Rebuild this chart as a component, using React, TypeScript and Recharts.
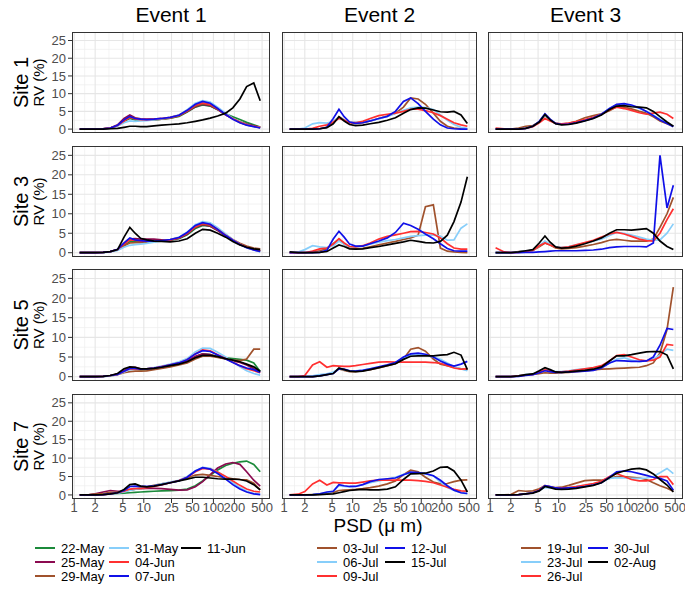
import React from 'react';
import { LineChart, Line, XAxis, YAxis, CartesianGrid } from 'recharts';

// ---------- data ----------
const SIZES = [1.2, 1.6, 2, 2.6, 3.3, 4.2, 5.2, 6.3, 7.5, 9, 11, 14, 18, 24, 32, 42, 55, 70, 90, 115, 150, 190, 240, 300, 380, 470];
const X_TICKS = [1, 2, 5, 10, 25, 50, 100, 200, 500];
const X_MINOR = [1.414, 3.162, 7.071, 15.81, 35.36, 70.71, 141.4, 316.2];
const Y_TICKS = [0, 5, 10, 15, 20, 25];
const Y_MINOR = [2.5, 7.5, 12.5, 17.5, 22.5];

const EVENT_TITLES = ['Event 1', 'Event 2', 'Event 3'];
const SITE_LABELS = ['Site 1', 'Site 3', 'Site 5', 'Site 7'];

const EVENT1_DATES = ['22-May', '25-May', '29-May', '31-May', '04-Jun', '07-Jun', '11-Jun'];
const EVENT2_DATES = ['03-Jul', '06-Jul', '09-Jul', '12-Jul', '15-Jul'];
const EVENT3_DATES = ['19-Jul', '23-Jul', '26-Jul', '30-Jul', '02-Aug'];

const EVENT1_COLORS = ['#1B8A3A', '#8B0A50', '#A0522D', '#87CEFA', '#FF3030', '#1010E8', '#000000'];
const EVENT2_COLORS = ['#A0522D', '#87CEFA', '#FF3030', '#1010E8', '#000000'];
const EVENT3_COLORS = ['#A0522D', '#87CEFA', '#FF3030', '#1010E8', '#000000'];

// Site 1
const SITE1_EVENT1 = [
  [0, 0, 0, 0.1, 0.3, 1, 2.2, 3, 2.6, 2.5, 2.5, 2.6, 2.8, 3.1, 3.6, 4.8, 6.2, 6.8, 6.5, 5.5, 4.3, 3.5, 2.7, 1.9, 1.2, 0.6],
  [0, 0, 0, 0.1, 0.3, 1.2, 3, 4, 3.2, 2.9, 2.8, 2.8, 2.9, 3.2, 3.8, 5, 6.3, 7, 6.6, 5.5, 4, 2.9, 2, 1.4, 0.9, 0.5],
  [0, 0, 0, 0.1, 0.3, 1, 2.5, 3.5, 3, 2.7, 2.6, 2.6, 2.8, 3.1, 3.7, 5, 6.5, 7.2, 6.8, 5.6, 4.1, 3, 2, 1.3, 0.8, 0.5],
  [0, 0, 0, 0, 0.2, 0.8, 1.8, 2.3, 2.2, 2.3, 2.4, 2.6, 2.9, 3.3, 4, 5.5, 7.3, 8, 7.6, 6.2, 4.5, 3, 1.9, 1.2, 0.7, 0.4],
  [0, 0, 0, 0.1, 0.3, 1, 2.3, 3.3, 2.9, 2.7, 2.7, 2.8, 3, 3.3, 3.9, 5.2, 6.8, 7.4, 7, 5.7, 4.1, 2.9, 1.9, 1.2, 0.8, 0.4],
  [0, 0, 0, 0.1, 0.3, 1.1, 2.6, 3.6, 3, 2.8, 2.7, 2.8, 3, 3.3, 3.9, 5.3, 7, 7.8, 7.3, 5.8, 4.1, 2.8, 1.8, 1.1, 0.7, 0.3],
  [0, 0, 0, 0, 0.1, 0.2, 0.5, 0.8, 0.8, 0.7, 0.7, 0.9, 1.1, 1.3, 1.5, 1.8, 2.2, 2.6, 3.1, 3.7, 4.5, 6, 8.5, 12, 13, 8],
];
const SITE1_EVENT2 = [
  [0, 0, 0, 0, 0.1, 0.5, 2, 3.5, 2.6, 1.8, 1.6, 1.8, 2.3, 3, 3.7, 4.5, 6.2, 8.8, 8.5, 7, 4.5, 2.2, 0.8, 0.3, 0.1, 0],
  [0, 0, 0.3, 1.5, 1.8, 1.7, 2.2, 3.3, 2.5, 2, 2, 2.1, 2.4, 2.9, 3.6, 4.4, 5.3, 6, 6.2, 6.1, 5.5, 4, 2.5, 1.3, 0.5, 0.2],
  [0, 0, 0, 0.2, 0.8, 1.2, 2, 3, 2.5, 1.8, 1.8, 2.2, 3, 3.8, 4.2, 4.5, 5, 5.6, 5.6, 5.2, 4.6, 3.8, 2.8, 1.8, 1.2, 0.8],
  [0, 0, 0, 0, 0.1, 0.5, 3, 5.6, 3.5, 2, 1.6, 1.8, 2.3, 3, 3.6, 5, 7.8, 8.8, 7.2, 5, 2.8, 1.2, 0.3, 0.1, 0, 0],
  [0, 0, 0, 0, 0.1, 0.4, 1.5, 3.5, 2.3, 1.3, 1, 1.1, 1.5, 1.9, 2.5, 3.2, 4.5, 5.5, 6, 5.9, 5.4, 4.9, 4.8, 5, 4, 1.6],
];
const SITE1_EVENT3 = [
  [0, 0, 0, 0.3, 0.8, 1, 2, 3.8, 2.5, 1.6, 1.4, 1.6, 2.2, 3.2, 3.8, 4.3, 5.2, 6.3, 6.2, 5.7, 5, 4.5, 3.5, 2.3, 1.5, 0.8],
  [0, 0, 0, 0, 0.2, 0.8, 2, 4, 2.5, 1.6, 1.4, 1.5, 1.9, 2.5, 3.2, 4.2, 5.8, 6.8, 7, 6.6, 5.8, 5, 4, 2.8, 1.8, 0.8],
  [0.3, 0.1, 0, 0, 0.2, 0.7, 1.8, 3, 2.3, 1.6, 1.5, 1.7, 2.1, 2.7, 3.3, 4.2, 5.5, 6.2, 5.8, 5.3, 4.6, 4.2, 4.5, 4.8, 4.2, 3],
  [0, 0, 0, 0, 0.2, 0.8, 2.2, 4.3, 2.8, 1.6, 1.3, 1.4, 1.8, 2.4, 3.1, 4.2, 5.8, 7, 7.2, 6.8, 6, 5, 3.8, 2.6, 1.6, 0.7],
  [0, 0, 0, 0, 0.2, 0.8, 2, 4.1, 2.6, 1.5, 1.2, 1.3, 1.7, 2.3, 3, 4, 5.5, 6.5, 6.6, 6.3, 6.2, 6, 5, 3.5, 2, 0.8],
];

// Site 3
const SITE3_EVENT1 = [
  [0, 0, 0, 0.1, 0.3, 0.7, 1.8, 2.8, 3, 2.7, 2.8, 2.9, 3, 3.2, 3.6, 4.6, 6.2, 7, 6.8, 5.8, 4.4, 3.2, 2.2, 1.4, 0.8, 0.4],
  [0, 0, 0, 0.1, 0.3, 0.8, 2.2, 3.5, 3.6, 3.5, 3.5, 3.5, 3.3, 3.3, 3.7, 4.8, 6.5, 7.2, 6.8, 5.7, 4.3, 3.1, 2.1, 1.4, 0.9, 0.5],
  [0, 0, 0, 0.1, 0.3, 0.7, 1.8, 2.5, 2.6, 2.6, 2.7, 2.9, 3.1, 3.4, 3.9, 5, 6.6, 7.3, 7, 5.9, 4.6, 3.4, 2.4, 1.7, 1.2, 1],
  [0, 0, 0, 0, 0.2, 0.6, 1.4, 1.9, 2.1, 2.2, 2.4, 2.7, 3, 3.4, 4, 5.3, 7.2, 8, 7.7, 6.4, 4.8, 3.4, 2.2, 1.3, 0.7, 0.2],
  [0, 0, 0, 0.1, 0.3, 0.8, 2.2, 3.3, 3.2, 3, 3, 3, 3.1, 3.3, 3.8, 5, 6.7, 7.5, 7.2, 6, 4.5, 3.3, 2.2, 1.4, 0.8, 0.4],
  [0, 0, 0, 0.1, 0.3, 0.9, 2.5, 3.8, 3.3, 3.1, 3, 3, 3.1, 3.4, 3.9, 5.2, 7, 7.7, 7.3, 6, 4.4, 3.2, 2.1, 1.3, 0.7, 0.3],
  [0, 0, 0, 0.1, 0.3, 0.8, 4, 6.5, 5, 3.7, 3.3, 3, 2.9, 2.8, 3, 3.6, 5, 6, 5.8, 5, 4, 2.9, 2, 1.4, 1, 0.8],
];
const SITE3_EVENT2 = [
  [0, 0, 0, 0.1, 0.5, 1, 2.3, 3.5, 2.2, 1.2, 1, 1.1, 1.5, 2, 2.5, 2.9, 3.4, 3.8, 4.5, 11.8, 12.3, 1.2, 0.4, 0.2, 0.1, 0],
  [0, 0.2, 0.8, 1.8, 1.5, 1.3, 1.8, 3, 2.2, 1.5, 1.4, 1.7, 2.2, 2.7, 3.1, 3.4, 3.8, 4.2, 4.4, 4.5, 4.5, 4.3, 3.2, 3.3, 6.3, 7.4],
  [0, 0, 0, 0.4, 1, 1.2, 2.2, 3.6, 2.5, 1.6, 1.5, 1.8, 2.5, 3.5, 4.2, 4.6, 5, 5.4, 5.5, 5.2, 4.8, 3.8, 2.3, 1.2, 0.9, 0.9],
  [0, 0, 0, 0, 0.1, 0.6, 3.5, 5.5, 4, 2.2, 1.7, 1.7, 2.3, 3, 3.8, 5.2, 7.6, 7, 6, 4.8, 3.6, 2.3, 1.1, 0.5, 0.4, 0.4],
  [0.2, 0, 0, 0, 0.1, 0.3, 1.2, 2, 1.6, 1, 0.9, 1, 1.3, 1.6, 2, 2.4, 2.8, 3.2, 2.9, 2.6, 2.5, 2.9, 4.5, 8, 13, 19.5],
];
const SITE3_EVENT3 = [
  [0, 0, 0, 0.3, 0.4, 0.6, 1.5, 2.5, 2, 1.2, 1, 1.1, 1.3, 1.7, 2.1, 2.6, 3.2, 3.4, 3.2, 3, 3, 3, 3.5, 6.5, 10, 14.2],
  [0, 0, 0, 0.2, 0.4, 0.6, 1.8, 3, 2.2, 1.5, 1.4, 1.6, 2, 2.5, 3, 3.5, 4.4, 5.2, 5, 4.5, 4, 3.5, 3.2, 3.3, 5, 7.4],
  [1.3, 0.2, 0, 0.1, 0.3, 0.6, 1.8, 2.5, 2, 1.4, 1.3, 1.5, 2, 2.6, 3.2, 4, 4.8, 5.2, 4.8, 4.2, 3.5, 3.1, 3, 5, 8.5, 11.3],
  [0, 0, 0, 0, 0.1, 0.1, 0.2, 0.3, 0.4, 0.5, 0.5, 0.5, 0.5, 0.6, 0.7, 0.9, 1.3, 1.5, 1.6, 1.6, 1.6, 1.5, 2.5, 25, 11.5, 17.3],
  [0, 0, 0, 0.2, 0.5, 0.8, 2.5, 4.3, 2.7, 1.5, 1.2, 1.3, 1.7, 2.3, 3, 3.8, 5, 5.9, 5.9, 5.8, 6, 6.2, 5, 3, 1.6, 0.8],
];

// Site 5
const SITE5_EVENT1 = [
  [0, 0, 0, 0.1, 0.3, 0.6, 1.3, 2, 2, 1.8, 1.8, 2, 2.3, 2.7, 3.2, 3.8, 5, 5.8, 5.6, 5.1, 4.8, 4.6, 4.4, 4.2, 3.5, 1.3],
  [0, 0, 0, 0.1, 0.3, 0.7, 1.6, 2.4, 2.4, 2, 2, 2.1, 2.4, 2.8, 3.3, 4, 5.2, 5.8, 5.6, 5, 4.5, 4, 3.6, 3, 2, 1.2],
  [0, 0, 0, 0.1, 0.2, 0.5, 1, 1.3, 1.4, 1.4, 1.5, 1.8, 2.1, 2.5, 3, 3.5, 4.5, 5.2, 5.2, 4.9, 4.5, 4.2, 4.1, 4.5, 7, 7],
  [0, 0, 0, 0, 0.2, 0.5, 1.2, 1.8, 1.9, 1.9, 2, 2.3, 2.7, 3.2, 3.8, 4.6, 6.3, 7.3, 7.2, 6.2, 5, 3.8, 2.5, 1.5, 0.8, 0.4],
  [0, 0, 0, 0.1, 0.3, 0.6, 1.4, 2, 2, 1.9, 2, 2.2, 2.6, 3, 3.5, 4.3, 5.8, 6.8, 6.6, 5.6, 4.6, 3.7, 2.8, 2, 1.5, 1],
  [0, 0, 0, 0.1, 0.3, 0.6, 1.4, 2.1, 2.1, 1.9, 2, 2.2, 2.5, 3, 3.5, 4.3, 5.8, 6.6, 6.4, 5.5, 4.5, 3.6, 2.8, 2.2, 1.8, 1.1],
  [0, 0, 0, 0.1, 0.3, 0.8, 2, 2.5, 2.4, 2, 2, 2.1, 2.4, 2.8, 3.2, 3.8, 4.8, 5.4, 5.4, 5.1, 4.6, 4.2, 3.8, 3.2, 2.5, 1.4],
];
const SITE5_EVENT2 = [
  [0, 0, 0, 0, 0.2, 0.6, 1, 2, 1.6, 1.3, 1.3, 1.5, 1.8, 2.2, 2.8, 3.3, 4.5, 7, 7.4, 6.5, 4.5, 3.2, 2.8, 2.4, 2, 1.8],
  [0, 0, 0, 0.2, 0.5, 0.7, 1.2, 2, 1.8, 1.5, 1.5, 1.7, 2, 2.4, 2.9, 3.5, 4.8, 5.5, 5.7, 5.5, 5, 4.4, 3.5, 2.5, 2, 1.5],
  [0, 0, 0.3, 3, 3.8, 2.4, 2.8, 2.7, 2.6, 2.6, 2.8, 3.1, 3.4, 3.7, 3.8, 3.7, 3.7, 3.7, 3.7, 3.7, 3.6, 3.4, 2.8, 2.2, 1.9, 2],
  [0, 0, 0, 0, 0.2, 0.5, 0.8, 2, 1.9, 1.5, 1.4, 1.6, 2, 2.5, 3, 3.6, 5, 5.8, 6, 5.7, 5, 4, 3.2, 2.7, 3.2, 3.9],
  [0, 0, 0, 0, 0.2, 0.5, 0.8, 2.2, 1.8, 1.4, 1.3, 1.4, 1.8, 2.3, 2.8, 3.3, 4.4, 5.2, 5.3, 5.3, 5.3, 5.5, 5.6, 6.2, 5.5, 1.8],
];
const SITE5_EVENT3 = [
  [0, 0, 0, 0.2, 0.4, 0.6, 0.8, 1, 0.9, 0.9, 1, 1.1, 1.3, 1.5, 1.7, 1.9, 2, 2.1, 2.2, 2.3, 2.4, 2.8, 3.5, 6, 12, 22.8],
  [0, 0, 0, 0.2, 0.5, 0.7, 1.2, 1.8, 1.6, 1.3, 1.3, 1.5, 1.8, 2, 2.2, 2.6, 3.4, 4.5, 4.8, 4.2, 3.8, 4, 4.5, 5.5, 7, 6.7],
  [0, 0, 0, 0.2, 0.4, 0.6, 1.2, 1.7, 1.5, 1.2, 1.2, 1.4, 1.7, 2, 2.3, 2.8, 4, 5.4, 5.6, 5, 4.3, 4, 4.2, 5, 8.2, 8],
  [0, 0, 0, 0.1, 0.3, 0.5, 1, 1.5, 1.3, 1.1, 1.1, 1.2, 1.3, 1.4, 1.6, 2.2, 3.5, 4.1, 4, 3.9, 3.9, 4, 5, 8, 12.3, 12],
  [0, 0, 0, 0.2, 0.5, 0.7, 1.5, 2.3, 1.8, 1.2, 1.1, 1.2, 1.4, 1.6, 1.9, 2.5, 4, 5.3, 5.3, 5.6, 6, 6.3, 6.4, 6.4, 5.5, 2],
];

// Site 7
const SITE7_EVENT1 = [
  [0, 0, 0.1, 0.2, 0.3, 0.4, 0.5, 0.6, 0.7, 0.8, 0.9, 1, 1.1, 1.2, 1.3, 1.6, 2.5, 3.8, 5.3, 6.8, 8, 8.6, 9, 9.2, 8.3, 6.3],
  [0, 0, 0.3, 0.8, 1.2, 1, 1, 1.4, 1.6, 1.7, 1.8, 1.8, 1.7, 1.5, 1.3, 1.4, 2.2, 3.6, 5.5, 7.3, 8.4, 8.8, 8.3, 6.3, 4, 2.4],
  [0, 0, 0.2, 0.4, 0.7, 0.8, 1, 1.3, 1.6, 1.9, 2.2, 2.6, 3, 3.4, 3.9, 4.6, 5.4, 5.6, 5.3, 5, 4.7, 4.4, 4.2, 4.1, 3.2, 1.4],
  [0, 0, 0, 0.1, 0.3, 0.5, 0.8, 1.2, 1.5, 1.8, 2.1, 2.5, 3, 3.5, 4, 5, 6.6, 7.5, 7.2, 6.2, 4.8, 3.3, 2, 1, 0.4, 0.2],
  [0, 0, 0, 0.1, 0.3, 0.6, 1, 1.6, 1.7, 1.8, 2, 2.3, 2.7, 3.3, 3.9, 4.8, 6.3, 7.2, 7, 6.2, 5, 3.8, 2.6, 1.6, 1, 0.8],
  [0, 0, 0, 0.1, 0.3, 0.6, 1.2, 2.3, 2.4, 2.3, 2.3, 2.5, 2.8, 3.3, 3.8, 4.8, 6.5, 7.4, 7, 5.8, 4.3, 2.8, 1.6, 0.8, 0.3, 0.1],
  [0, 0, 0, 0.1, 0.3, 0.6, 1.5, 2.8, 3, 2.4, 2.2, 2.4, 2.8, 3.3, 3.8, 4.3, 4.8, 4.8, 4.6, 4.4, 4.3, 4.3, 4.2, 3.8, 2.8, 1.4],
];
const SITE7_EVENT2 = [
  [0, 0, 0, 0.1, 0.2, 0.4, 0.7, 1.2, 1.3, 1.4, 1.5, 1.7, 2, 2.4, 3, 3.8, 5.5, 6.7, 6.3, 4.8, 3.5, 3, 3.1, 3.6, 4, 4.1],
  [0, 0, 0, 0.1, 0.3, 0.6, 1, 2.5, 2.3, 2.2, 2.4, 2.8, 3.3, 3.8, 4.3, 4.8, 5.6, 6, 6, 5.8, 5.2, 3.5, 2, 1.2, 0.6, 0.3],
  [0, 0.2, 0.9, 3, 4, 2.7, 3.4, 3.3, 3.3, 3.2, 3.2, 3.5, 3.8, 4, 4, 4, 4, 4, 3.9, 3.7, 3.3, 2.7, 2.1, 1.5, 1.1, 1],
  [0, 0, 0, 0.1, 0.3, 0.8, 1, 2.8, 2.5, 2.3, 2.3, 2.8, 3.6, 4.2, 4.4, 4.6, 5.5, 6.2, 6.1, 5.8, 5.2, 4, 2.5, 1.3, 0.6, 0.4],
  [0, 0, 0, 0, 0.1, 0.2, 0.3, 0.6, 0.9, 1.2, 1.4, 1.5, 1.4, 1.4, 1.6, 2.2, 4.2, 5.7, 5.8, 5.9, 6.5, 7.5, 7.6, 6.5, 4, 0.8],
];
const SITE7_EVENT3 = [
  [0, 0, 0.1, 1.2, 1, 1.1, 1.7, 2.5, 2.2, 2, 2.1, 2.6, 3.2, 3.9, 4, 4, 4.5, 5, 5, 4.8, 4.6, 4.2, 3.3, 2.5, 1.8, 1],
  [0, 0, 0, 0.1, 0.3, 0.6, 1.2, 2, 1.9, 1.8, 1.8, 2, 2.3, 2.6, 3, 3.5, 4.5, 4.7, 4.6, 4.5, 4.5, 4.6, 5, 6, 7.2, 5.8],
  [0, 0, 0, 0.1, 0.3, 0.6, 1.3, 2.5, 2.2, 1.8, 1.9, 2, 2.3, 2.7, 3.1, 3.7, 5, 5.8, 5, 4.2, 3.8, 3.8, 4.2, 5, 5, 2.8],
  [0, 0, 0, 0.1, 0.3, 0.6, 1.2, 2.5, 2.3, 1.9, 1.8, 1.9, 2, 2.3, 2.7, 3.3, 4.8, 6.3, 6.5, 6.3, 5.8, 5.3, 4.8, 4.5, 3.8, 1.3],
  [0, 0, 0, 0.1, 0.3, 0.5, 1.1, 2.3, 2, 1.6, 1.5, 1.6, 1.8, 2.2, 2.6, 3.3, 4.7, 5.9, 6.5, 7, 7.2, 6.8, 5.7, 4.2, 2.7, 0.8],
];

const GRID_DATA = [
  [SITE1_EVENT1, SITE1_EVENT2, SITE1_EVENT3],
  [SITE3_EVENT1, SITE3_EVENT2, SITE3_EVENT3],
  [SITE5_EVENT1, SITE5_EVENT2, SITE5_EVENT3],
  [SITE7_EVENT1, SITE7_EVENT2, SITE7_EVENT3],
];
const EVENT_COLORS = [EVENT1_COLORS, EVENT2_COLORS, EVENT3_COLORS];
const EVENT_DATES = [EVENT1_DATES, EVENT2_DATES, EVENT3_DATES];

// ---------- layout ----------
const FONT = '"Liberation Sans", Arial, Helvetica, sans-serif';
const X_DOMAIN = [0.93, 650];
const Y_DOMAIN = [-1.1, 27.4];
const COLS = [
  { left: 72, width: 198 },
  { left: 282, width: 195 },
  { left: 488, width: 195 },
];
const ROWS = [
  { top: 32, height: 101 },
  { top: 146, height: 111 },
  { top: 269, height: 112 },
  { top: 394, height: 105 },
];
const LEGEND_COL_X = [[35, 109, 181], [317, 385], [521, 588]];
const LEGEND_ROW_Y = [548, 562, 576];
const RIGHT_PAD = 12;

// grid line pixel positions follow the same log / linear mapping as the axes' domains
function xGridPoints(values: number[], left: number, width: number) {
  const l0 = Math.log10(X_DOMAIN[0]);
  const l1 = Math.log10(X_DOMAIN[1]);
  return values.map((v) => left + ((Math.log10(v) - l0) / (l1 - l0)) * width);
}
function yGridPoints(values: number[], height: number) {
  return values.map((v) => ((Y_DOMAIN[1] - v) / (Y_DOMAIN[1] - Y_DOMAIN[0])) * height);
}

function Panel({ series, colors, col, row, showY, showX }: any) {
  const data = SIZES.map((x, i) => {
    const o: Record<string, number> = { x };
    series.forEach((s: number[], j: number) => {
      o['s' + j] = s[i];
    });
    return o;
  });
  const yW = showY ? 40 : 5;
  const xH = showX ? 22 : 5;
  const c = COLS[col];
  const r = ROWS[row];
  const tickStyle = { fontSize: 13, fill: '#4D4D4D', fontFamily: FONT };
  return (
    <div style={{ position: 'absolute', left: c.left - yW, top: r.top }}>
      <LineChart
        width={c.width + yW + RIGHT_PAD}
        height={r.height + xH}
        data={data}
        margin={{ top: 0, right: RIGHT_PAD, bottom: 0, left: 0 }}
      >
        <CartesianGrid
          verticalPoints={xGridPoints(X_MINOR, yW, c.width)}
          horizontalPoints={yGridPoints(Y_MINOR, r.height)}
          stroke="#EEEEEE"
          strokeWidth={0.7}
        />
        <CartesianGrid
          verticalPoints={xGridPoints(X_TICKS, yW, c.width)}
          horizontalPoints={yGridPoints(Y_TICKS, r.height)}
          stroke="#E6E6E6"
          strokeWidth={1.1}
        />
        <XAxis
          dataKey="x"
          type="number"
          scale="log"
          domain={X_DOMAIN}
          allowDataOverflow
          ticks={X_TICKS}
          interval={0}
          height={xH}
          axisLine={false}
          tickSize={4}
          tickMargin={0}
          tickLine={{ stroke: '#333333' }}
          tick={showX ? tickStyle : false}
        />
        <YAxis
          type="number"
          domain={Y_DOMAIN}
          allowDataOverflow
          ticks={Y_TICKS}
          interval={0}
          width={yW}
          axisLine={false}
          tickSize={4}
          tickMargin={2}
          tickLine={{ stroke: '#333333' }}
          tick={showY ? tickStyle : false}
        />
        {series.map((_s: number[], j: number) => (
          <Line
            key={j}
            type="linear"
            dataKey={'s' + j}
            stroke={colors[j]}
            strokeWidth={1.7}
            dot={false}
            activeDot={false}
            isAnimationActive={false}
          />
        ))}
      </LineChart>
      <div
        style={{
          position: 'absolute',
          left: yW,
          top: 0,
          width: c.width,
          height: r.height,
          border: '1px solid #333333',
          boxSizing: 'border-box',
          pointerEvents: 'none',
        }}
      />
    </div>
  );
}

export default function App() {
  return (
    <div style={{ position: 'absolute', left: 0, top: 0, width: 685, height: 590, background: '#fff', fontFamily: FONT, overflow: 'hidden' }}>
      {GRID_DATA.map((rowData, r) =>
        rowData.map((series, c) => (
          <Panel
            key={r + '-' + c}
            series={series}
            colors={EVENT_COLORS[c]}
            col={c}
            row={r}
            showY={c === 0}
            showX={r === 3}
          />
        ))
      )}
      <svg width={685} height={590} style={{ position: 'absolute', left: 0, top: 0, pointerEvents: 'none' }}>
        {EVENT_TITLES.map((t, c) => (
          <text key={t} x={COLS[c].left + COLS[c].width / 2} y={22} textAnchor="middle" fontSize={21} fontFamily={FONT} fill="#000">
            {t}
          </text>
        ))}
        {SITE_LABELS.map((s, r) => {
          const cy = ROWS[r].top + ROWS[r].height / 2;
          return (
            <g key={s}>
              <text transform={`translate(28,${cy}) rotate(-90)`} textAnchor="middle" fontSize={20} fontFamily={FONT} fill="#000">
                {s}
              </text>
              <text transform={`translate(44,${cy}) rotate(-90)`} textAnchor="middle" fontSize={15} fontFamily={FONT} fill="#000">
                RV (%)
              </text>
            </g>
          );
        })}
        <text x={378} y={532} textAnchor="middle" fontSize={19} fontFamily={FONT} fill="#000">
          PSD (μ m)
        </text>
        {EVENT_DATES.map((dates, e) =>
          dates.map((d, k) => {
            const colIdx = Math.floor(k / 3);
            const rowIdx = k % 3;
            const x = LEGEND_COL_X[e][colIdx];
            const y = LEGEND_ROW_Y[rowIdx];
            return (
              <g key={d}>
                <line x1={x} x2={x + 20} y1={y} y2={y} stroke={EVENT_COLORS[e][k]} strokeWidth={2} />
                <text x={x + 26} y={y} dominantBaseline="central" fontSize={13} fontFamily={FONT} fill="#000">
                  {d}
                </text>
              </g>
            );
          })
        )}
      </svg>
    </div>
  );
}
